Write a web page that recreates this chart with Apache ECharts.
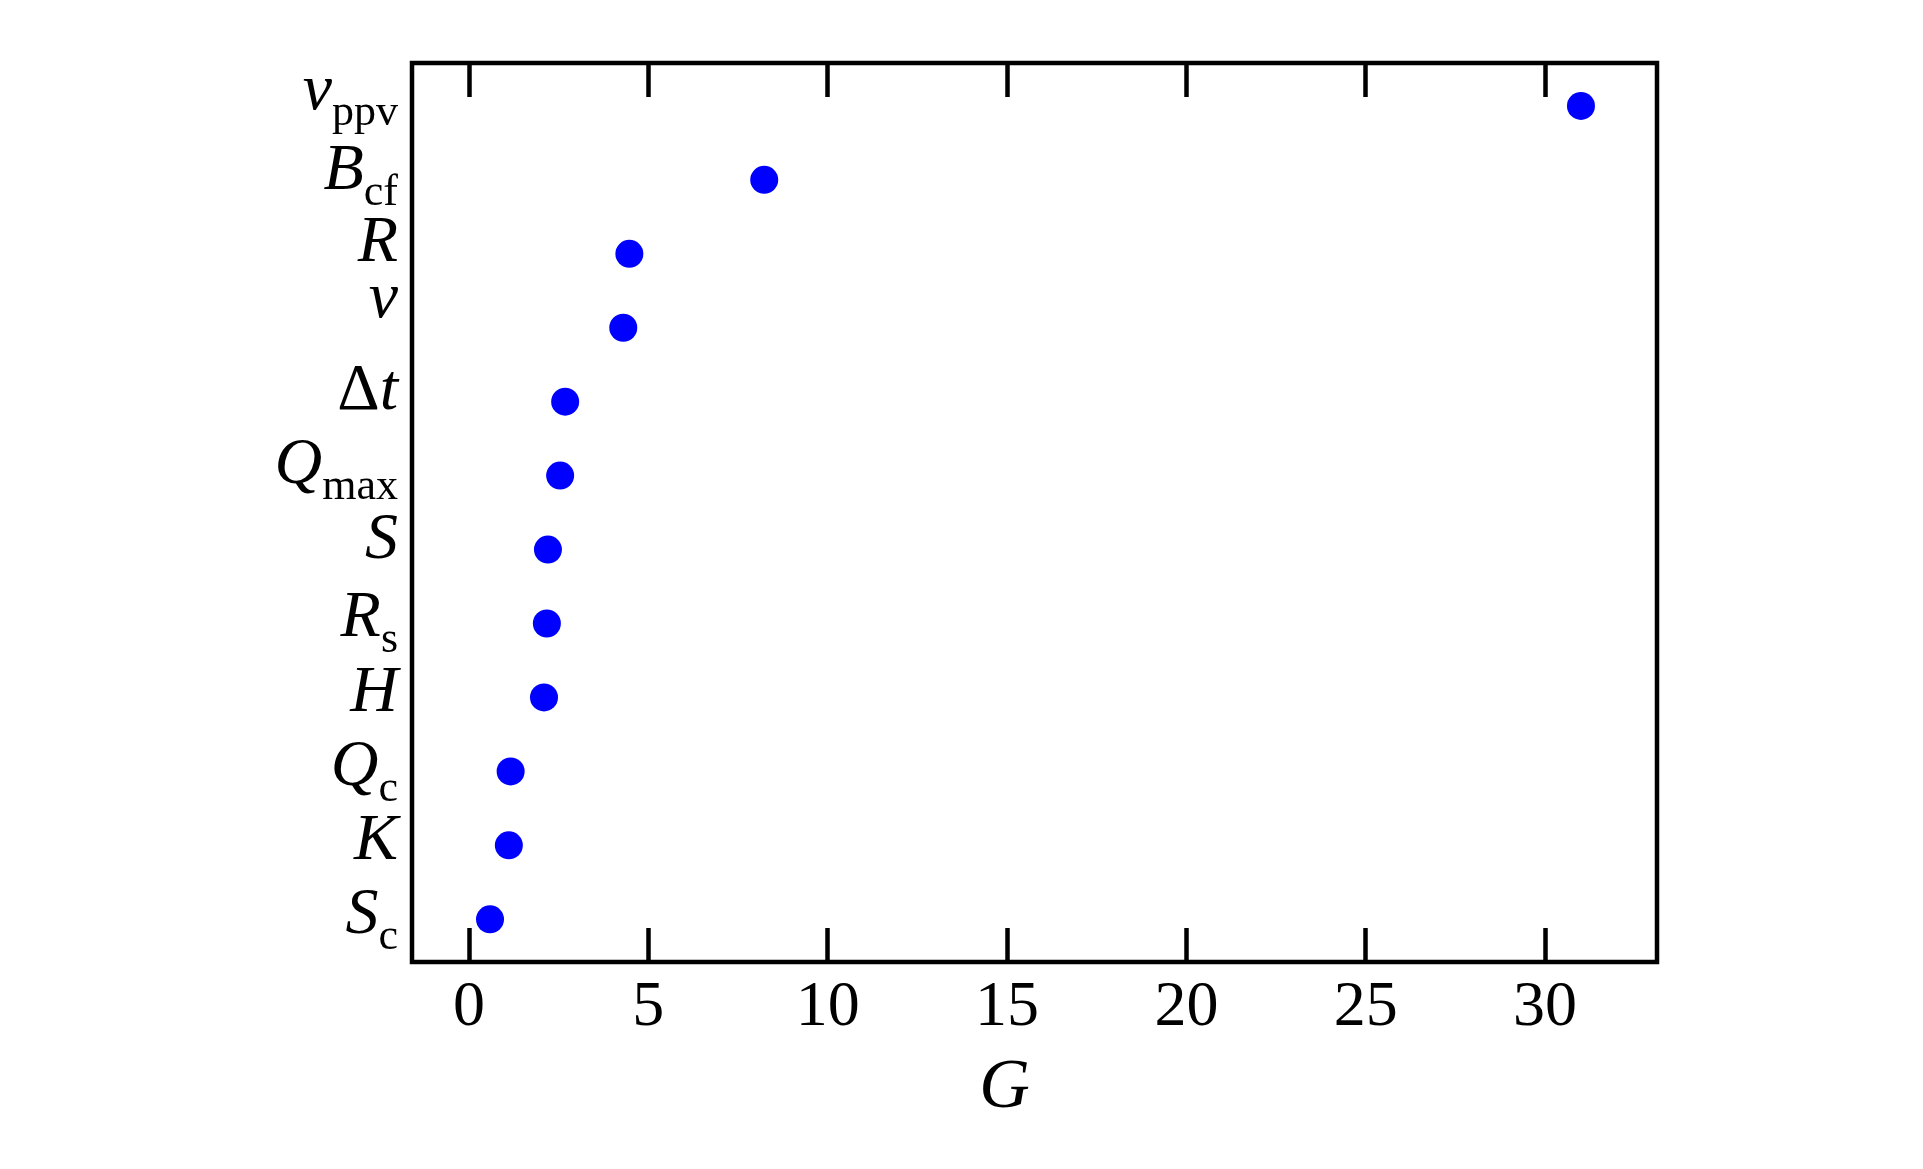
<!DOCTYPE html>
<html>
<head>
<meta charset="utf-8">
<script src="https://cdn.jsdelivr.net/npm/echarts@6/dist/echarts.min.js"></script>
<style>
html,body{margin:0;padding:0;background:#fff;}
#chart{width:1923px;height:1169px;}
</style>
</head>
<body>
<div id="chart"></div>
<script>
// Factors listed from top to bottom
var factorKeys = ['vppv', 'Bcf', 'R', 'nu', 'dt', 'Qmax', 'S', 'Rs', 'H', 'Qc', 'K', 'Sc'];
var gValues = [31.0, 8.23, 4.47, 4.30, 2.68, 2.54, 2.20, 2.17, 2.09, 1.16, 1.11, 0.585];
var xTicks = [0, 5, 10, 15, 20, 25, 30];

// rich-text label strings (main italic symbol + upright subscript)
var labelText = {
  vppv: '{m|v}{sub|ppv}',
  Bcf: '{m|B}{sub|cf}',
  R: '{m|R}',
  nu: '{m|ν}',
  dt: '{up|Δ}{m|t}',
  Qmax: '{m|Q}{sub|max}',
  S: '{m|S}',
  Rs: '{m|R}{sub|s}',
  H: '{m|H}',
  Qc: '{m|Q}{sub|c}',
  K: '{m|K}',
  Sc: '{m|S}{sub|c}'
};
// label lift above its tick, in pixels (style only)
var labelLiftPx = {vppv: 14, Bcf: 8, R: 10, nu: 28, dt: 10, Qmax: 10, S: 9,
  Rs: 5, H: 4, Qc: 4, K: 4, Sc: 4};

var n = factorKeys.length;
var yMin = 0.4225, yMax = 12.58, gridH = 899;
var pxPerUnit = gridH / (yMax - yMin);
var yPos = factorKeys.map(function (k, i) { return n - i; });
var labelPos = factorKeys.map(function (k, i) { return yPos[i] + labelLiftPx[k] / pxPerUnit; });
var scatterData = gValues.map(function (g, i) { return [g, yPos[i]]; });

var serif = "'Liberation Serif', 'DejaVu Serif', serif";
var mainSize = 66, subSize = 44;

var chart = echarts.init(document.getElementById('chart'), null, {renderer: 'canvas'});
chart.setOption({
  backgroundColor: '#ffffff',
  animation: false,
  grid: {
    left: 412, top: 63, width: 1245, height: gridH,
    show: true, borderColor: '#000', borderWidth: 4.5, backgroundColor: 'transparent'
  },
  xAxis: [{
    type: 'value', position: 'bottom',
    min: -1.59, max: 33.12,
    splitLine: {show: false},
    axisLine: {show: false},
    axisTick: {show: true, inside: true, length: 34, customValues: xTicks,
      lineStyle: {color: '#000', width: 4.5}},
    axisLabel: {show: true, customValues: xTicks, margin: 14,
      showMinLabel: true, showMaxLabel: true,
      fontFamily: serif, fontSize: 64, color: '#000'},
    name: 'G', nameLocation: 'middle', nameGap: 92,
    nameTextStyle: {fontFamily: serif, fontStyle: 'italic', fontSize: 70, color: '#000',
      padding: [0, 60, 0, 0]}
  }, {
    type: 'value', position: 'top',
    min: -1.59, max: 33.12,
    splitLine: {show: false},
    axisLine: {show: false},
    axisTick: {show: true, inside: true, length: 34, customValues: xTicks,
      lineStyle: {color: '#000', width: 4.5}},
    axisLabel: {show: false}
  }],
  yAxis: {
    type: 'value',
    min: yMin, max: yMax,
    splitLine: {show: false},
    axisLine: {show: false},
    axisTick: {show: false},
    axisLabel: {
      show: true, customValues: labelPos, margin: 14,
      showMinLabel: true, showMaxLabel: true, hideOverlap: false,
      formatter: function (v) {
        var idx = n - Math.round(v);
        return labelText[factorKeys[idx]] || '';
      },
      rich: {
        m: {fontFamily: serif, fontStyle: 'italic', fontSize: mainSize, lineHeight: mainSize,
          color: '#000', verticalAlign: 'top'},
        up: {fontFamily: serif, fontSize: mainSize, lineHeight: mainSize,
          color: '#000', verticalAlign: 'top'},
        sub: {fontFamily: serif, fontSize: subSize, lineHeight: subSize,
          color: '#000', verticalAlign: 'top', padding: [33, 0, 0, 0]}
      }
    }
  },
  series: [{
    type: 'scatter',
    xAxisIndex: 0,
    data: scatterData,
    symbol: 'circle',
    symbolSize: 28,
    itemStyle: {color: '#0000ff', opacity: 1}
  }]
});
</script>
</body>
</html>
